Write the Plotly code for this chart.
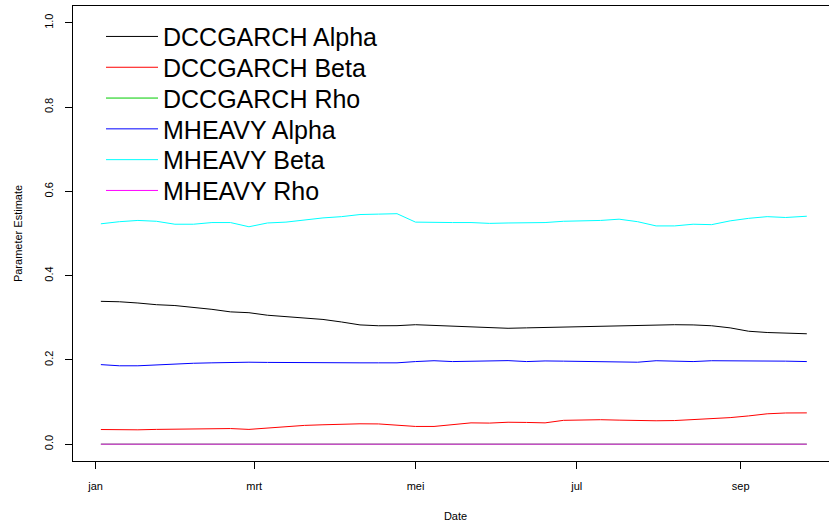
import pandas as pd
import plotly.graph_objects as go

# Weekly observation dates (2008)
dates = list(pd.date_range("2008-01-03", periods=38, freq="7D").strftime("%Y-%m-%d")) + ["2008-09-26"]

dcc_alpha = [0.339, 0.338, 0.335, 0.331, 0.329, 0.325, 0.320, 0.314, 0.312, 0.306,
             0.303, 0.2995, 0.296, 0.290, 0.283, 0.281, 0.2812, 0.2835, 0.282, 0.281,
             0.279, 0.277, 0.275, 0.276, 0.277, 0.278, 0.2782, 0.279, 0.280, 0.281,
             0.282, 0.2835, 0.283, 0.281, 0.276, 0.268, 0.265, 0.264, 0.262]
dcc_beta = [0.0347, 0.034, 0.034, 0.035, 0.0355, 0.036, 0.0365, 0.037, 0.035, 0.038,
            0.042, 0.0445, 0.046, 0.048, 0.0483, 0.048, 0.045, 0.042, 0.042, 0.0455,
            0.0505, 0.050, 0.052, 0.0515, 0.0505, 0.0565, 0.0575, 0.058, 0.057, 0.056,
            0.0555, 0.056, 0.058, 0.0605, 0.063, 0.067, 0.072, 0.074, 0.0742]
dcc_rho = [0.0] * 39
mh_alpha = [0.1888, 0.186, 0.186, 0.188, 0.191, 0.192, 0.193, 0.1945, 0.1945, 0.194,
            0.1935, 0.193, 0.193, 0.193, 0.193, 0.193, 0.193, 0.196, 0.198, 0.196,
            0.197, 0.197, 0.1983, 0.196, 0.1975, 0.197, 0.196, 0.195, 0.1948, 0.1945,
            0.198, 0.1965, 0.196, 0.198, 0.198, 0.1975, 0.1975, 0.197, 0.196]
mh_beta = [0.523, 0.528, 0.531, 0.529, 0.522, 0.522, 0.526, 0.526, 0.516, 0.525,
           0.527, 0.532, 0.537, 0.540, 0.545, 0.546, 0.547, 0.527, 0.526, 0.526,
           0.526, 0.524, 0.525, 0.526, 0.526, 0.529, 0.530, 0.531, 0.534, 0.528,
           0.518, 0.518, 0.522, 0.521, 0.530, 0.536, 0.540, 0.538, 0.541]
mh_rho = [0.0] * 39

names = ["DCCGARCH Alpha", "DCCGARCH Beta", "DCCGARCH Rho",
         "MHEAVY Alpha", "MHEAVY Beta", "MHEAVY Rho"]
colors = ["#000000", "#FF0000", "#00CD00", "#0000FF", "#00FFFF", "#FF00FF"]
series = [dcc_alpha, dcc_beta, dcc_rho, mh_alpha, mh_beta, mh_rho]

tick_dates = ["2008-01-01", "2008-03-01", "2008-05-01", "2008-07-01", "2008-09-01"]
tick_labels = ["jan", "mrt", "mei", "jul", "sep"]
y_ticks = [0.0, 0.2, 0.4, 0.6, 0.8, 1.0]
y_labels = ["0.0", "0.2", "0.4", "0.6", "0.8", "1.0"]

# The original plot region extends slightly past the right edge of the 829 px view
W, H = 838, 527
ML, MT, MB = 73, 6, 66
font = "Liberation Sans, Arial, sans-serif"

fig = go.Figure()
legend_layouts = {}
for i, (name, col, vals) in enumerate(zip(names, colors, series)):
    key = "legend" if i == 0 else f"legend{i + 1}"
    fig.add_trace(go.Scatter(x=dates, y=vals, mode="lines", name=name,
                             line=dict(color=col, width=1), legend=key))
    row_center = 36.7 + 30.8 * i
    legend_layouts[key] = dict(
        x=(101 - ML) / (W - ML), y=(H - MB - row_center) / (H - MT - MB),
        xanchor="left", yanchor="middle",
        font=dict(size=25, family=font, color="black"),
        bgcolor="rgba(0,0,0,0)", itemwidth=52)

fig.update_layout(
    width=W, height=H,
    margin=dict(l=ML, r=0, t=MT, b=MB, autoexpand=False),
    paper_bgcolor="white", plot_bgcolor="white",
    font=dict(family=font, size=11, color="black"),
    showlegend=True,
    xaxis=dict(range=["2007-12-23 11:00", "2008-10-07 19:00"], automargin=False,
               tickmode="array", tickvals=tick_dates, ticktext=tick_labels,
               ticks="outside", ticklen=7, tickcolor="black", tickwidth=1,
               ticklabelstandoff=8,
               showgrid=False, zeroline=False, showline=True, linecolor="black",
               linewidth=1, mirror=True,
               title=dict(text="Date", font=dict(size=11, color="black"), standoff=21),
               tickfont=dict(size=11, color="black")),
    yaxis=dict(range=[-0.04, 1.04], automargin=False,
               tickmode="array", tickvals=y_ticks, ticktext=y_labels,
               ticks="outside", ticklen=7, tickcolor="black", tickwidth=1,
               ticklabelstandoff=8, mirror=True,
               tickangle=-90, showgrid=False, zeroline=False, showline=True,
               linecolor="black", linewidth=1,
               title=dict(text="Parameter Estimate", font=dict(size=11, color="black"), standoff=17),
               tickfont=dict(size=11, color="black")),
    **legend_layouts,
)

fig.write_html("out.html", config={"displayModeBar": False},
               post_script=("document.body.style.margin='0';"
                            "document.body.style.overflow='hidden';"
                            "document.documentElement.style.overflow='hidden';"))
